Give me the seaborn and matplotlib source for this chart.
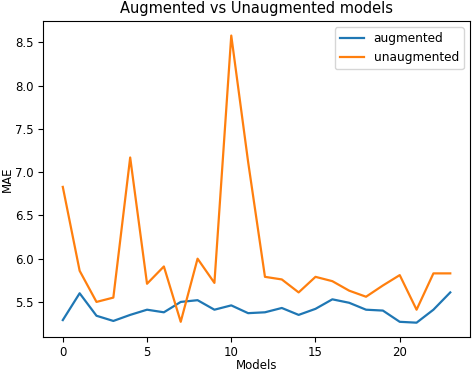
import numpy as np
import matplotlib
matplotlib.use("Agg")
import matplotlib.pyplot as plt
import pandas as pd
import seaborn as sns

# MAE per model
models = list(range(24))
augmented = [5.29, 5.60, 5.34, 5.28, 5.35, 5.41, 5.38, 5.50, 5.52, 5.41, 5.46, 5.37,
             5.38, 5.43, 5.35, 5.42, 5.53, 5.49, 5.41, 5.40, 5.27, 5.26, 5.41, 5.61]
unaugmented = [6.83, 5.86, 5.50, 5.55, 7.17, 5.71, 5.91, 5.27, 6.00, 5.72, 8.58, 7.12,
               5.79, 5.76, 5.61, 5.79, 5.74, 5.63, 5.56, 5.69, 5.81, 5.41, 5.83, 5.83]
series = ["augmented", "unaugmented"]
colors = ["#1f77b4", "#ff7f0e"]

# Long format for seaborn
df = pd.DataFrame({
    "Models": models * 2,
    "MAE": augmented + unaugmented,
    "kind": [series[0]] * len(models) + [series[1]] * len(models),
})

fig, ax = plt.subplots(figsize=(4.72, 3.72), dpi=100)
fig.subplots_adjust(left=0.092, right=0.995, top=0.943, bottom=0.094)

sns.lineplot(data=df, x="Models", y="MAE", hue="kind", palette=colors,
             linewidth=1.6, ax=ax)

ax.set_title("Augmented vs Unaugmented models", fontsize=10.5)
ax.set_xlabel("Models", fontsize=8.5, labelpad=0)
ax.set_ylabel("MAE", fontsize=8.5, labelpad=1)
ax.set_xticks([0, 5, 10, 15, 20])
ax.tick_params(labelsize=8.5)
ax.tick_params(axis="x", pad=3)
ax.legend(title=None, fontsize=8.7, loc="upper right")

fig.savefig("out.png", dpi=100)
